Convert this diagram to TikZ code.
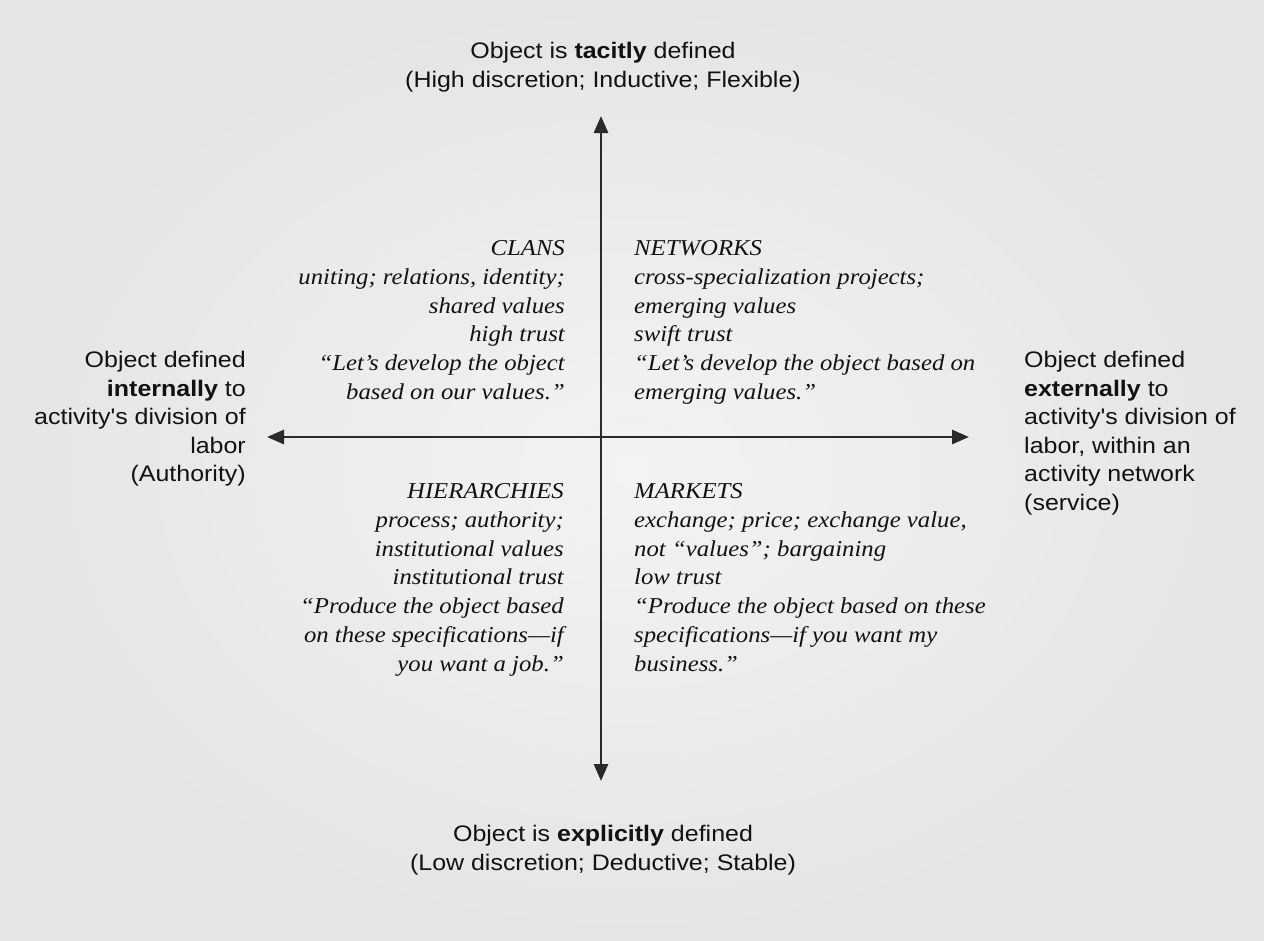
\documentclass[tikz,border=0pt]{standalone}
\usepackage{fontspec}
\setmainfont{Liberation Serif}
\newfontfamily\quadfont[FakeStretch=1.09,Ligatures=TeX]{Liberation Serif}
\newfontfamily\axisfont[FakeStretch=1.11]{Liberation Sans}
\usetikzlibrary{arrows.meta}
\definecolor{bgin}{HTML}{F3F3F3}
\definecolor{bgout}{HTML}{E5E5E5}
\definecolor{axiscol}{HTML}{2A2A2A}
\definecolor{txt}{HTML}{121212}
\tikzset{
  axisarrow/.style={draw=axiscol, line width=2.8pt, -{Triangle[length=17pt,width=14pt]}},
  quadtext/.style={inner sep=0pt, text=txt, font={\quadfont\fontsize{22.7}{28.9}\selectfont\itshape}},
  axislabel/.style={inner sep=0pt, text=txt, font={\axisfont\fontsize{22.5}{28.6}\selectfont}}
}
\begin{document}
\begin{tikzpicture}[x=1pt,y=-1pt]
\useasboundingbox (0,0) rectangle (1264,940);
\shade[inner color=bgin, outer color=bgout] (0,0) rectangle (1264,940);
% axes
\coordinate (center) at (601,437);
\coordinate (top) at (601,116);
\coordinate (bottom) at (601,781);
\coordinate (left) at (267,437);
\coordinate (right) at (969,437);
\draw[axisarrow] (center) -- (top);
\draw[axisarrow] (center) -- (bottom);
\draw[axisarrow] (center) -- (left);
\draw[axisarrow] (center) -- (right);
% axis labels
\node[axislabel, anchor=north, align=center] (toplab) at (603,42)
  {Object is \textbf{tacitly} defined\\(High discretion; Inductive; Flexible)};
\node[axislabel, anchor=north, align=center] (botlab) at (603,825)
  {Object is \textbf{explicitly} defined\\(Low discretion; Deductive; Stable)};
\node[axislabel, anchor=north east, align=right] (leftlab) at (246,351)
  {Object defined\\\textbf{internally} to\\activity's division of\\labor\\(Authority)};
\node[axislabel, anchor=north west, align=left] (rightlab) at (1024,351)
  {Object defined\\\textbf{externally} to\\activity's division of\\labor, within an\\activity network\\(service)};
% quadrants
\node[quadtext, anchor=north east, align=right] (clans) at (565,240)
  {CLANS\\uniting; relations, identity;\\shared values\\high trust\\``Let's develop the object\\based on our values.''};
\node[quadtext, anchor=north west, align=left] (networks) at (634,240)
  {NETWORKS\\cross-specialization projects;\\emerging values\\swift trust\\``Let's develop the object based on\\emerging values.''};
\node[quadtext, anchor=north east, align=right] (hier) at (564,483)
  {HIERARCHIES\\process; authority;\\institutional values\\institutional trust\\``Produce the object based\\on these specifications---if\\you want a job.''};
\node[quadtext, anchor=north west, align=left] (markets) at (634,483)
  {MARKETS\\exchange; price; exchange value,\\not ``values''; bargaining\\low trust\\``Produce the object based on these\\specifications---if you want my\\business.''};
\end{tikzpicture}
\end{document}
